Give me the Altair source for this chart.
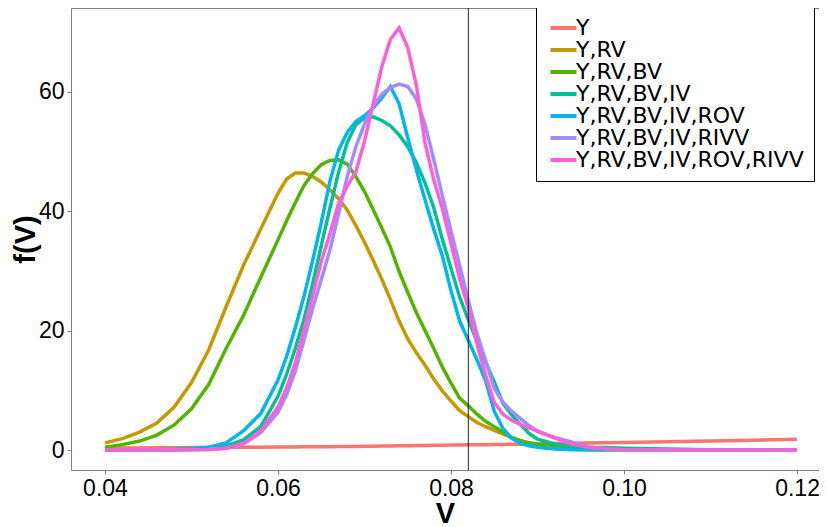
import altair as alt
import pandas as pd

# x grid (V)
V = [0.040, 0.042, 0.044, 0.046, 0.048, 0.050, 0.052, 0.054, 0.056, 0.058,
     0.060, 0.061, 0.062, 0.063, 0.064, 0.065, 0.066, 0.067, 0.068, 0.069,
     0.070, 0.071, 0.072, 0.073, 0.074, 0.075, 0.076, 0.077, 0.078, 0.079,
     0.080, 0.081, 0.082, 0.083, 0.084, 0.085, 0.086, 0.087, 0.088, 0.089,
     0.090, 0.092, 0.094, 0.096, 0.098, 0.100, 0.105, 0.110, 0.115, 0.120]

F_Y = [0.30, 0.32, 0.34, 0.36, 0.38, 0.40, 0.42, 0.44, 0.46, 0.48,
       0.50, 0.51, 0.52, 0.53, 0.54, 0.55, 0.56, 0.57, 0.58, 0.60,
       0.62, 0.64, 0.66, 0.68, 0.70, 0.72, 0.74, 0.76, 0.78, 0.80,
       0.82, 0.84, 0.86, 0.88, 0.90, 0.92, 0.94, 0.96, 0.98, 1.00,
       1.02, 1.07, 1.12, 1.17, 1.22, 1.27, 1.40, 1.52, 1.65, 1.80]

F_Y_RV = [1.2, 1.9, 3.0, 4.5, 7.2, 11.3, 16.8, 24.0, 30.9, 37.0,
          43.0, 45.4, 46.4, 46.4, 45.8, 44.9, 43.6, 42.1, 40.2, 37.6,
          34.8, 31.8, 28.6, 25.2, 21.6, 18.6, 16.3, 14.2, 11.9, 9.9,
          8.2, 6.6, 5.6, 4.6, 3.9, 3.3, 2.7, 2.1, 1.6, 1.2,
          0.8, 0.4, 0.2, 0.1, 0.05, 0.03, 0.02, 0.01, 0.01, 0.01]

F_Y_RV_BV = [0.45, 0.9, 1.5, 2.5, 4.2, 6.9, 11.0, 17.0, 22.5, 28.9,
             35.2, 38.4, 41.4, 44.3, 46.3, 47.8, 48.5, 48.6, 47.9, 45.8,
             43.3, 40.3, 37.2, 34.0, 29.9, 26.4, 23.0, 20.0, 17.0, 13.9,
             11.2, 8.7, 7.4, 6.0, 4.8, 3.9, 3.0, 2.1, 1.5, 1.2,
             1.0, 0.7, 0.5, 0.35, 0.25, 0.15, 0.05, 0.02, 0.01, 0.01]

F_Y_RV_BV_IV = [0.0, 0.0, 0.02, 0.05, 0.08, 0.15, 0.3, 0.7, 1.7, 3.9,
                9.0, 12.7, 17.0, 21.9, 27.8, 34.2, 40.5, 46.5, 51.5, 54.5,
                55.6, 55.8, 55.2, 54.3, 52.8, 50.8, 48.1, 44.7, 40.6, 35.3,
                30.4, 25.6, 21.8, 18.2, 14.7, 11.4, 7.8, 5.9, 4.3, 2.8,
                1.8, 1.0, 0.6, 0.45, 0.4, 0.3, 0.15, 0.05, 0.02, 0.01]

F_Y_RV_BV_IV_ROV = [0.0, 0.0, 0.02, 0.05, 0.1, 0.2, 0.45, 1.2, 3.2, 6.1,
                    11.7, 15.7, 20.5, 25.7, 31.7, 38.1, 45.0, 50.2, 53.2, 55.0,
                    56.0, 57.3, 59.0, 60.9, 58.0, 52.3, 46.9, 41.9, 37.0, 32.5,
                    26.7, 21.6, 18.4, 15.1, 11.6, 6.5, 3.6, 2.0, 1.1, 0.7,
                    0.45, 0.15, 0.05, 0.02, 0.01, 0.0, 0.0, 0.0, 0.0, 0.0]

F_Y_RV_BV_IV_RIVV = [0.0, 0.0, 0.0, 0.01, 0.02, 0.05, 0.1, 0.3, 1.0, 2.9,
                     6.3, 9.3, 13.2, 18.4, 23.7, 28.5, 33.5, 39.5, 45.8, 50.8,
                     54.6, 57.6, 59.6, 60.7, 61.3, 60.9, 58.8, 54.5, 48.7, 42.6,
                     36.7, 30.9, 25.0, 19.5, 15.0, 10.3, 8.0, 6.5, 5.3, 4.1,
                     3.1, 2.1, 1.3, 0.5, 0.15, 0.05, 0.02, 0.01, 0.0, 0.0]

F_Y_RV_BV_IV_ROV_RIVV = [0.0, 0.0, 0.0, 0.01, 0.02, 0.05, 0.1, 0.3, 1.1, 3.2,
                         7.2, 10.4, 14.6, 20.1, 25.8, 31.6, 36.2, 41.3, 44.2, 46.6,
                         51.7, 58.0, 64.2, 68.8, 70.7, 67.4, 61.1, 51.4, 45.3, 40.4,
                         34.6, 28.7, 23.8, 17.8, 12.5, 8.0, 6.0, 5.0, 4.3, 3.7,
                         3.2, 2.0, 1.0, 0.4, 0.15, 0.05, 0.02, 0.01, 0.0, 0.0]

SERIES = ["Y", "Y,RV", "Y,RV,BV", "Y,RV,BV,IV", "Y,RV,BV,IV,ROV",
          "Y,RV,BV,IV,RIVV", "Y,RV,BV,IV,ROV,RIVV"]
COLORS = ["#F8766D", "#C49A00", "#53B400", "#00C094", "#00B6EB",
          "#A58AFF", "#FB61D7"]
X_TICKS = [0.04, 0.06, 0.08, 0.10, 0.12]
Y_TICKS = [0, 20, 40, 60]
VLINE = [0.082]

all_vals = [F_Y, F_Y_RV, F_Y_RV_BV, F_Y_RV_BV_IV, F_Y_RV_BV_IV_ROV,
            F_Y_RV_BV_IV_RIVV, F_Y_RV_BV_IV_ROV_RIVV]
rows = []
for name, vals in zip(SERIES, all_vals):
    for v, f in zip(V, vals):
        rows.append({"V": v, "f": f, "series": name})
df = pd.DataFrame(rows)

FONT = "Liberation Sans"
LEGEND_FONT = "DejaVu Sans"
GREY = "#7F7F7F"
W, H = 748, 462

x_scale = alt.Scale(domain=[0.03607, 0.12254], nice=False, zero=False)
y_scale = alt.Scale(domain=[-3.35, 74.04], nice=False, zero=False)

lines = alt.Chart(df).mark_line(strokeWidth=3.5, interpolate="linear").encode(
    x=alt.X("V:Q", scale=x_scale, title="V",
            axis=alt.Axis(values=X_TICKS, format=".2f", titleY=43,
                          titleBaseline="middle")),
    y=alt.Y("f:Q", scale=y_scale, title="f(V)",
            axis=alt.Axis(values=Y_TICKS, format="d", titleX=-46,
                          titleBaseline="middle")),
    color=alt.Color("series:N", scale=alt.Scale(domain=SERIES, range=COLORS),
                    legend=alt.Legend(title=None, orient="none", legendX=465,
                                      legendY=-1, symbolType="M-1,0H3",
                                      symbolSize=169, symbolStrokeWidth=4,
                                      labelFontSize=22, labelFont=LEGEND_FONT,
                                      labelOffset=8, labelLimit=400,
                                      padding=10, rowPadding=0,
                                      strokeColor="black", fillColor="white")),
)

vline = alt.Chart(pd.DataFrame({"V": VLINE})).mark_rule(
    color="black", strokeWidth=1, opacity=0.85
).encode(
    x=alt.X("V:Q", scale=x_scale, title=None,
            axis=alt.Axis(orient="top", labels=False, ticks=False,
                          domainColor=GREY, grid=False))
)

chart = alt.layer(lines, vline).resolve_axis(x="independent").properties(
    width=W, height=H,
    autosize=alt.AutoSizeParams(type="none"),
    padding={"left": 63, "top": 0, "right": 0, "bottom": 60},
).configure_view(strokeWidth=0).configure_axis(
    grid=False, domainColor=GREY, tickColor=GREY, tickSize=4,
    labelPadding=3, labelFont=FONT, labelFontSize=23, labelColor="black",
    titleFont=FONT, titleFontSize=29, titleFontWeight="bold",
    titleColor="black", domainWidth=1,
).configure_legend(labelColor="black")

chart.save("out.html", embed_options={"renderer": "svg", "actions": False})
